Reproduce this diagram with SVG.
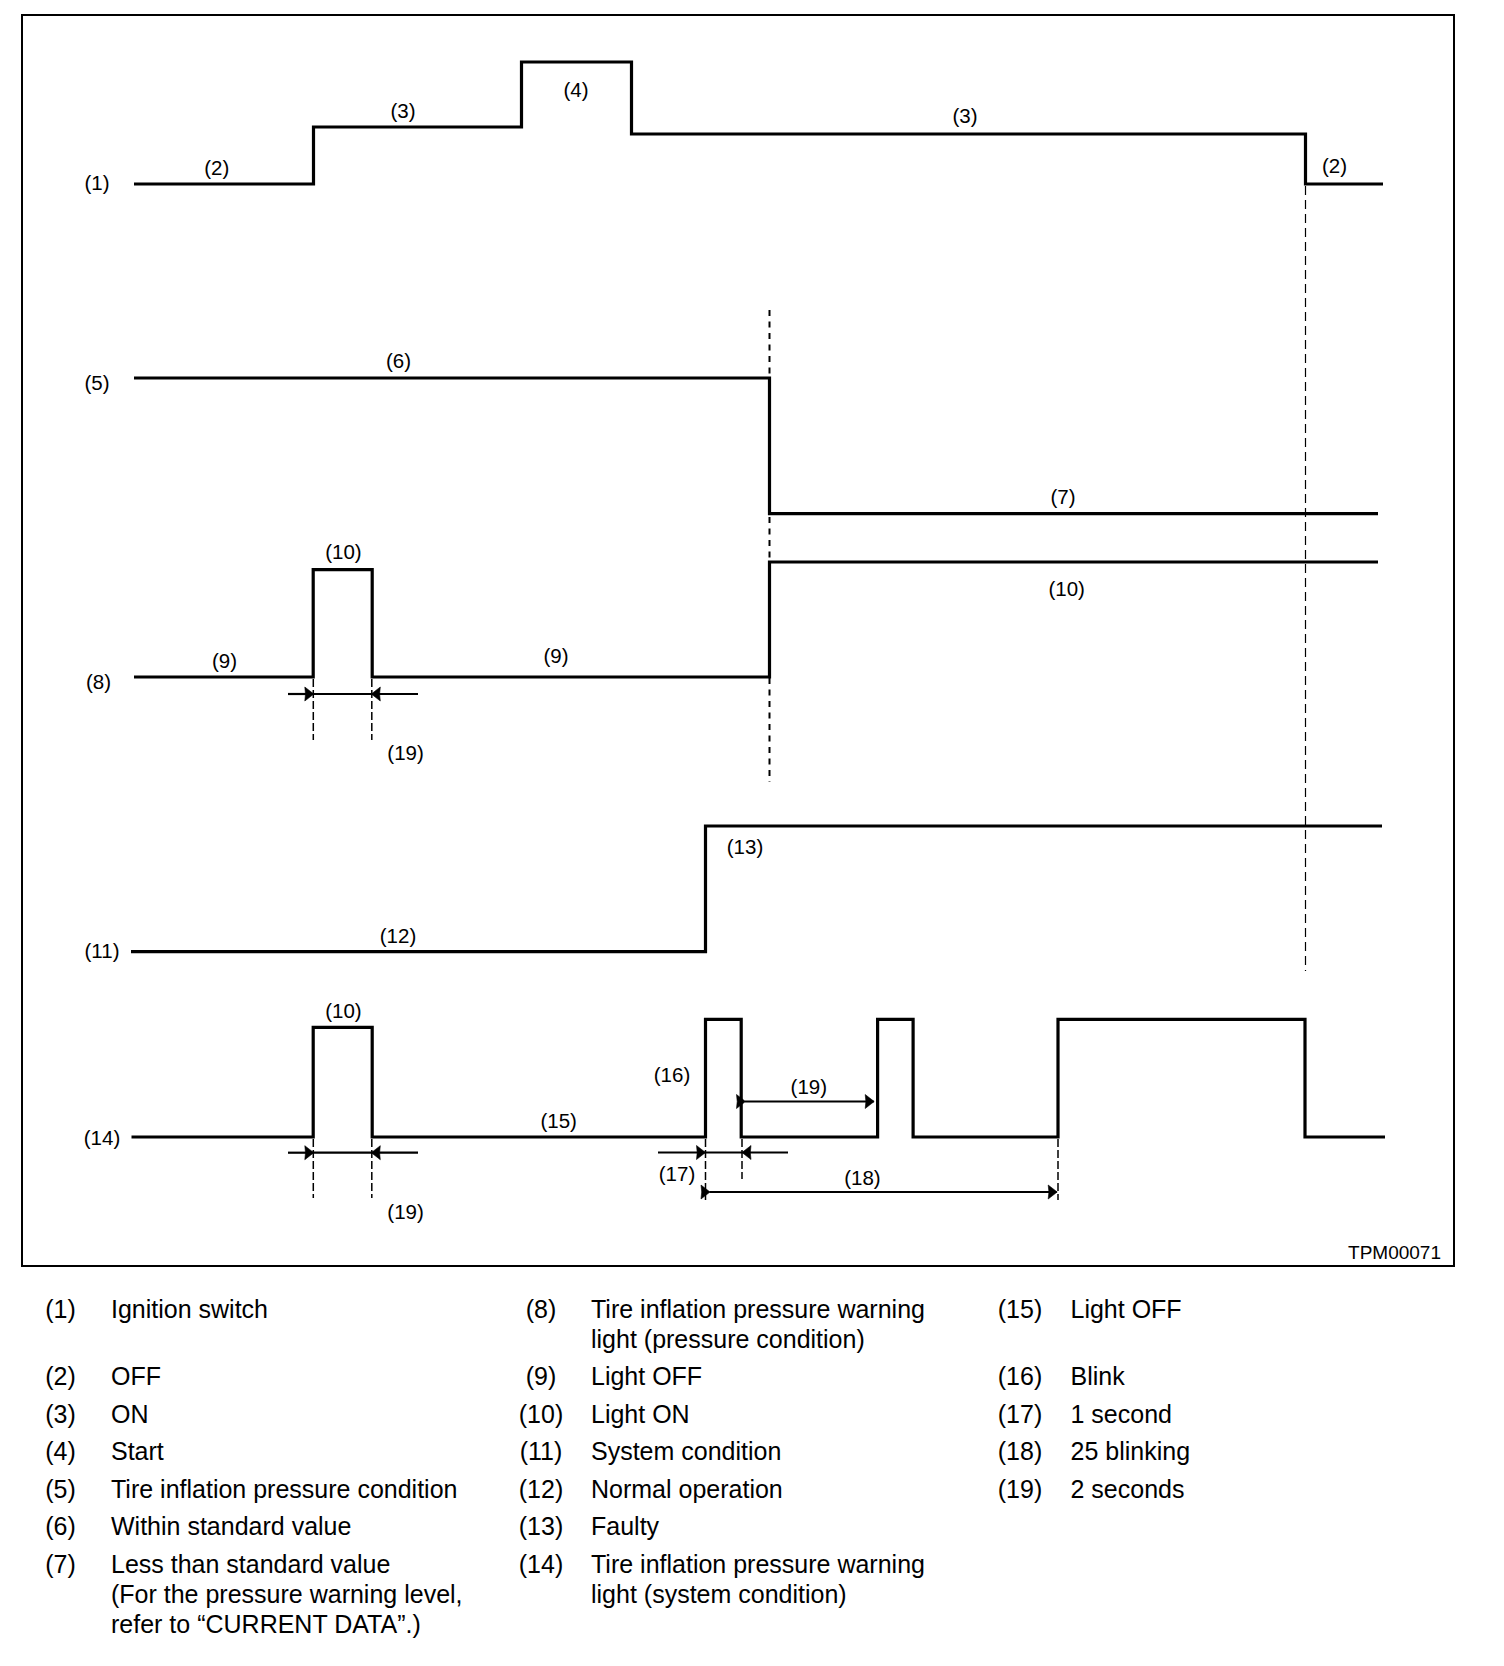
<svg xmlns="http://www.w3.org/2000/svg" width="1504" height="1666" viewBox="0 0 1504 1666">
<style>
.sig{fill:none;stroke:#000;stroke-width:3.2;stroke-linejoin:miter;stroke-linecap:butt}
.dim{fill:none;stroke:#000;stroke-width:2.2}
.ext{fill:none;stroke:#000;stroke-width:1.5;stroke-dasharray:8 3}
.vmid{fill:none;stroke:#000;stroke-width:2;stroke-dasharray:6 5.5}
.vend{fill:none;stroke:#000;stroke-width:1.2;stroke-dasharray:9 5}
.lbl{font-family:"Liberation Sans",Arial,sans-serif;font-size:20.5px;text-anchor:middle;fill:#000}
.leg{font-family:"Liberation Sans",Arial,sans-serif;font-size:25px;fill:#000}
.num{text-anchor:middle}
.code{font-family:"Liberation Sans",Arial,sans-serif;font-size:19px;text-anchor:end;fill:#000}
</style>
<defs>
<marker id="ah" viewBox="-10 -8 11 16" refX="0" refY="0" markerWidth="11" markerHeight="16" markerUnits="userSpaceOnUse" orient="auto">
<path d="M0.5,0 L-8.5,-7 L-7.8,0 L-8.5,7 Z" fill="#000" stroke="#000" stroke-width="0.6" stroke-linejoin="round"/>
</marker>
</defs>
<rect width="1504" height="1666" fill="#fff"/>
<rect x="22" y="15" width="1432" height="1251" fill="none" stroke="#000" stroke-width="2"/>

<g id="guides">
<line class="vmid" x1="769.5" y1="310" x2="769.5" y2="782"/>
<line class="vend" x1="1305.5" y1="186" x2="1305.5" y2="971"/>
</g>

<g id="ignition-switch">
<path class="sig" d="M134,184 H313.5 V127 H521.5 V62 H631.5 V134 H1305.5 V184 H1383"/>
<text class="lbl" x="97" y="190">(1)</text>
<text class="lbl" x="216.7" y="175">(2)</text>
<text class="lbl" x="403" y="118">(3)</text>
<text class="lbl" x="576" y="97">(4)</text>
<text class="lbl" x="965" y="123">(3)</text>
<text class="lbl" x="1334.5" y="173">(2)</text>
</g>

<g id="pressure-condition">
<path class="sig" d="M134,378 H769.5 V513.7 H1378"/>
<text class="lbl" x="97" y="390">(5)</text>
<text class="lbl" x="398.5" y="368">(6)</text>
<text class="lbl" x="1063" y="504">(7)</text>
</g>

<g id="warning-light-pressure">
<path class="sig" d="M134,677 H313.2 V569.7 H372.2 V677 H769.5 V562 H1378"/>
<text class="lbl" x="98.5" y="689">(8)</text>
<text class="lbl" x="224.5" y="668">(9)</text>
<text class="lbl" x="556" y="663">(9)</text>
<text class="lbl" x="343.4" y="559">(10)</text>
<text class="lbl" x="1066.7" y="596">(10)</text>
<text class="lbl" x="405.6" y="760">(19)</text>
</g>

<g id="system-condition">
<path class="sig" d="M131,951.7 H705.5 V826 H1382"/>
<text class="lbl" x="102" y="958">(11)</text>
<text class="lbl" x="398" y="943">(12)</text>
<text class="lbl" x="745" y="854">(13)</text>
</g>

<g id="warning-light-system">
<path class="sig" d="M131.5,1137 H313.2 V1027.3 H372.2 V1137 H705.5 V1019.3 H741.2 V1137 H877.6 V1019.3 H913.1 V1137 H1058 V1019.3 H1305 V1137 H1385"/>
<text class="lbl" x="102" y="1145">(14)</text>
<text class="lbl" x="343.4" y="1018">(10)</text>
<text class="lbl" x="558.7" y="1128">(15)</text>
<text class="lbl" x="672" y="1082">(16)</text>
<text class="lbl" x="808.8" y="1094">(19)</text>
<text class="lbl" x="677" y="1181">(17)</text>
<text class="lbl" x="862.4" y="1185">(18)</text>
<text class="lbl" x="405.6" y="1219">(19)</text>
</g>

<g id="connectors">
<line class="ext" x1="313.3" y1="679" x2="313.3" y2="740"/>
<line class="ext" x1="371.8" y1="679" x2="371.8" y2="740"/>
<line class="dim" x1="288" y1="694" x2="313.3" y2="694" marker-end="url(#ah)"/>
<line class="dim" x1="313.3" y1="694" x2="371.8" y2="694"/>
<line class="dim" x1="418" y1="694" x2="371.8" y2="694" marker-end="url(#ah)"/>
<line class="ext" x1="313.3" y1="1139" x2="313.3" y2="1198"/>
<line class="ext" x1="371.8" y1="1139" x2="371.8" y2="1198"/>
<line class="dim" x1="288" y1="1152.7" x2="313.3" y2="1152.7" marker-end="url(#ah)"/>
<line class="dim" x1="313.3" y1="1152.7" x2="371.8" y2="1152.7"/>
<line class="dim" x1="418" y1="1152.7" x2="371.8" y2="1152.7" marker-end="url(#ah)"/>
<line class="ext" x1="705.5" y1="1139" x2="705.5" y2="1200"/>
<line class="ext" x1="742" y1="1139" x2="742" y2="1179"/>
<line class="dim" x1="658" y1="1152.5" x2="705" y2="1152.5" marker-end="url(#ah)"/>
<line class="dim" x1="705" y1="1152.5" x2="742.5" y2="1152.5"/>
<line class="dim" x1="788" y1="1152.5" x2="742.5" y2="1152.5" marker-end="url(#ah)"/>
<line class="dim" x1="745" y1="1101.5" x2="873.7" y2="1101.5" marker-start="url(#ah)" marker-end="url(#ah)"/>
<line class="ext" x1="1058" y1="1139" x2="1058" y2="1200"/>
<line class="dim" x1="709.5" y1="1192" x2="1056.7" y2="1192" marker-start="url(#ah)" marker-end="url(#ah)"/>
</g>

<text class="code" x="1441" y="1259">TPM00071</text>

<g id="legend">
<text class="leg num" x="60.5" y="1317.5">(1)</text><text class="leg" x="111" y="1317.5">Ignition switch</text>
<text class="leg num" x="60.5" y="1385">(2)</text><text class="leg" x="111" y="1385">OFF</text>
<text class="leg num" x="60.5" y="1422.5">(3)</text><text class="leg" x="111" y="1422.5">ON</text>
<text class="leg num" x="60.5" y="1460">(4)</text><text class="leg" x="111" y="1460">Start</text>
<text class="leg num" x="60.5" y="1497.5">(5)</text><text class="leg" x="111" y="1497.5">Tire inflation pressure condition</text>
<text class="leg num" x="60.5" y="1535">(6)</text><text class="leg" x="111" y="1535">Within standard value</text>
<text class="leg num" x="60.5" y="1572.5">(7)</text><text class="leg" x="111" y="1572.5">Less than standard value</text>
<text class="leg" x="111" y="1602.7">(For the pressure warning level,</text>
<text class="leg" x="111" y="1633">refer to “CURRENT DATA”.)</text>

<text class="leg num" x="541" y="1317.5">(8)</text><text class="leg" x="591" y="1317.5">Tire inflation pressure warning</text>
<text class="leg" x="591" y="1347.7">light (pressure condition)</text>
<text class="leg num" x="541" y="1385">(9)</text><text class="leg" x="591" y="1385">Light OFF</text>
<text class="leg num" x="541" y="1422.5">(10)</text><text class="leg" x="591" y="1422.5">Light ON</text>
<text class="leg num" x="541" y="1460">(11)</text><text class="leg" x="591" y="1460">System condition</text>
<text class="leg num" x="541" y="1497.5">(12)</text><text class="leg" x="591" y="1497.5">Normal operation</text>
<text class="leg num" x="541" y="1535">(13)</text><text class="leg" x="591" y="1535">Faulty</text>
<text class="leg num" x="541" y="1572.5">(14)</text><text class="leg" x="591" y="1572.5">Tire inflation pressure warning</text>
<text class="leg" x="591" y="1602.7">light (system condition)</text>

<text class="leg num" x="1020" y="1317.5">(15)</text><text class="leg" x="1070.5" y="1317.5">Light OFF</text>
<text class="leg num" x="1020" y="1385">(16)</text><text class="leg" x="1070.5" y="1385">Blink</text>
<text class="leg num" x="1020" y="1422.5">(17)</text><text class="leg" x="1070.5" y="1422.5">1 second</text>
<text class="leg num" x="1020" y="1460">(18)</text><text class="leg" x="1070.5" y="1460">25 blinking</text>
<text class="leg num" x="1020" y="1497.5">(19)</text><text class="leg" x="1070.5" y="1497.5">2 seconds</text>
</g>
</svg>
